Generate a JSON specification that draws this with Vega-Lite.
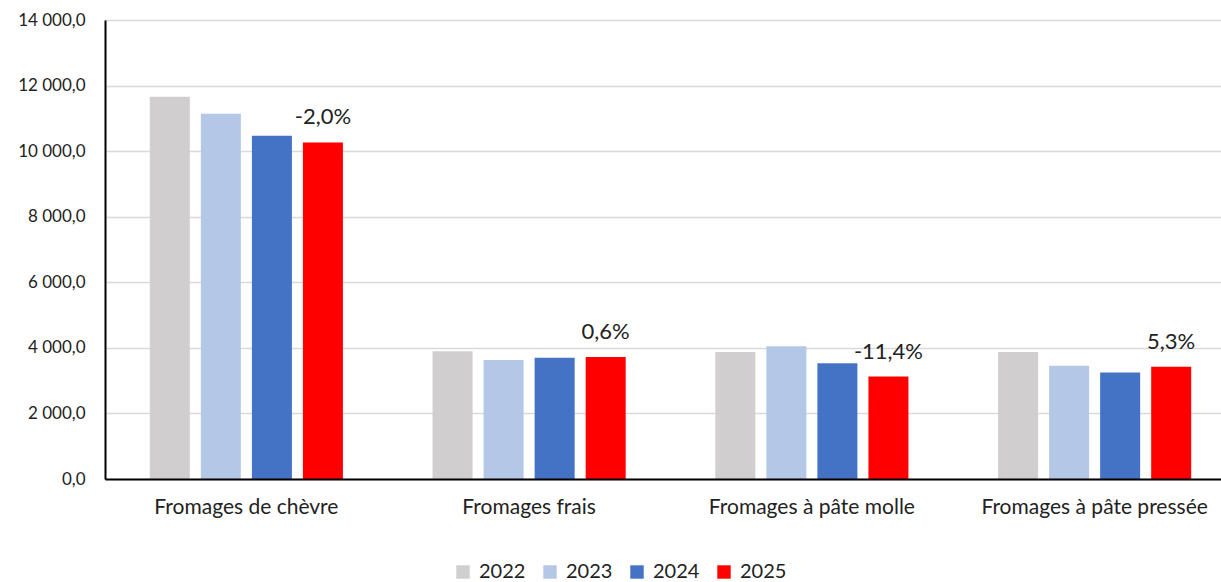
{
  "$schema": "https://vega.github.io/schema/vega-lite/v6.json",
  "width": 1131,
  "height": 459,
  "autosize": {"type": "none"},
  "padding": {"left": 105, "top": 20, "right": 0, "bottom": 103},
  "background": "white",
  "config": {
    "view": {"stroke": null},
    "font": "Lato",
    "locale": {"number": {"decimal": ",", "thousands": " ", "grouping": [3], "currency": ["", ""]}}
  },
  "data": {"values": [
    {"cat": "Fromages de chèvre", "year": "2022", "value": 11658, "label": ""},
    {"cat": "Fromages de chèvre", "year": "2023", "value": 11139, "label": ""},
    {"cat": "Fromages de chèvre", "year": "2024", "value": 10467, "label": ""},
    {"cat": "Fromages de chèvre", "year": "2025", "value": 10265, "label": "-2,0%"},
    {"cat": "Fromages frais", "year": "2022", "value": 3893, "label": ""},
    {"cat": "Fromages frais", "year": "2023", "value": 3628, "label": ""},
    {"cat": "Fromages frais", "year": "2024", "value": 3701, "label": ""},
    {"cat": "Fromages frais", "year": "2025", "value": 3722, "label": "0,6%"},
    {"cat": "Fromages à pâte molle", "year": "2022", "value": 3872, "label": ""},
    {"cat": "Fromages à pâte molle", "year": "2023", "value": 4046, "label": ""},
    {"cat": "Fromages à pâte molle", "year": "2024", "value": 3527, "label": ""},
    {"cat": "Fromages à pâte molle", "year": "2025", "value": 3124, "label": "-11,4%"},
    {"cat": "Fromages à pâte pressée", "year": "2022", "value": 3872, "label": ""},
    {"cat": "Fromages à pâte pressée", "year": "2023", "value": 3456, "label": ""},
    {"cat": "Fromages à pâte pressée", "year": "2024", "value": 3252, "label": ""},
    {"cat": "Fromages à pâte pressée", "year": "2025", "value": 3420, "label": "5,3%"}
  ]},
  "encoding": {
    "x": {
      "field": "cat", "type": "nominal", "sort": null, "title": null,
      "scale": {"paddingInner": 0.317, "paddingOuter": 0.1585},
      "axis": {"labelAngle": 0, "labelFontSize": 21, "labelLimit": 400, "labelColor": "#222", "labelPadding": 17, "ticks": false, "domainColor": "#000", "domainWidth": 2, "labelFont": "Lato", "zindex": 1}
    },
    "xOffset": {"field": "year", "type": "nominal", "scale": {"paddingInner": 0.216, "paddingOuter": 0}},
    "y": {
      "field": "value", "type": "quantitative", "title": null,
      "scale": {"domain": [0, 14000], "nice": false},
      "axis": {"values": [0, 2000, 4000, 6000, 8000, 10000, 12000, 14000], "format": ",.1f", "labelFontSize": 17, "labelColor": "#222", "labelPadding": 20, "ticks": false, "domainColor": "#000", "domainWidth": 2, "gridColor": "#D9D9D9", "gridWidth": 1.5, "labelFont": "Lato"}
    }
  },
  "layer": [
    {
      "mark": {"type": "bar"},
      "encoding": {
        "color": {
          "field": "year", "type": "nominal", "title": null,
          "scale": {"domain": ["2022", "2023", "2024", "2025"], "range": ["#D0CECE", "#B4C7E7", "#4472C4", "#FF0000"]},
          "legend": {"orient": "none", "direction": "horizontal", "legendX": 348, "legendY": 542, "symbolType": "square", "symbolSize": 180, "symbolStrokeWidth": 0, "symbolOpacity": 1, "labelFontSize": 20, "labelColor": "#222", "columnPadding": 14, "labelOffset": 6, "labelFont": "Lato"}
        }
      }
    },
    {
      "mark": {"type": "text", "fontSize": 22, "color": "#222", "baseline": "alphabetic", "dy": -18, "font": "Lato"},
      "encoding": {"text": {"field": "label"}}
    }
  ]
}
